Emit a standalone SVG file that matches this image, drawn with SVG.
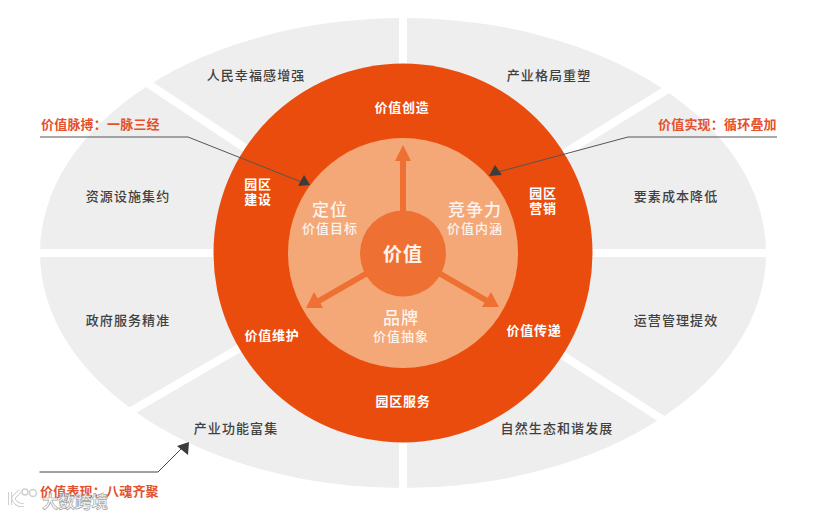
<svg xmlns="http://www.w3.org/2000/svg" width="823" height="516" viewBox="0 0 823 516">
<style>
text{font-family:"Noto Sans CJK SC","Noto Sans",sans-serif;text-anchor:middle;dominant-baseline:central}
.g{font-size:13px;letter-spacing:1.1px;fill:#404040;font-weight:500}
.w{font-size:13px;letter-spacing:.8px;fill:#fff;font-weight:700}
.s{font-size:13px;letter-spacing:1px;fill:#fdf3ec;font-weight:500}
.h{font-size:17px;letter-spacing:1px;fill:#fdf3ec;font-weight:500}
.o{font-size:13px;letter-spacing:.2px;fill:#e4512b;font-weight:700;text-anchor:start}
.gap{stroke:#fff;stroke-width:8;fill:none}
.ln{fill:none;stroke-width:1}
.ar{stroke:#ee7033;stroke-width:6;fill:none}
</style>
<rect width="823" height="516" fill="#fff"/>
<g id="outer-ring">
<ellipse cx="403" cy="253" rx="363" ry="235" fill="#eeeeee"/>
<path class="gap" d="M403 10V496M30 253H780M403 253L141 79M403 253L676 84M403 253L126 414M403 253L668 423" />
</g>
<g id="sector-labels">
<text class="g" x="256" y="74.500">人民幸福感增强</text>
<text class="g" x="549" y="74.500">产业格局重塑</text>
<text class="g" x="128" y="195.500">资源设施集约</text>
<text class="g" x="676" y="195.500">要素成本降低</text>
<text class="g" x="128" y="319.500">政府服务精准</text>
<text class="g" x="676" y="319.500">运营管理提效</text>
<text class="g" x="236" y="427.500">产业功能富集</text>
<text class="g" x="557" y="427.500">自然生态和谐发展</text>
</g>
<g id="ring">
<circle cx="403" cy="253" r="189.500" fill="#e94c0c"/>
<text class="w" x="402" y="106.500">价值创造</text>
<text class="w" x="258" y="190"><tspan x="258" dy="-7">园区</tspan><tspan x="258" dy="14.500">建设</tspan></text>
<text class="w" x="543" y="199"><tspan x="543" dy="-7">园区</tspan><tspan x="543" dy="14.500">营销</tspan></text>
<text class="w" x="272" y="334.500">价值维护</text>
<text class="w" x="534" y="329.500">价值传递</text>
<text class="w" x="403" y="400.500">园区服务</text>
</g>
<g id="inner">
<circle cx="403" cy="253" r="115" fill="#f4a878"/>
<text class="h" x="330" y="208.500">定位</text>
<text class="s" x="330" y="227.500">价值目标</text>
<text class="h" x="475" y="208.500">竞争力</text>
<text class="s" x="475" y="227.500">价值内涵</text>
<text class="h" x="401" y="316.500">品牌</text>
<text class="s" x="401" y="335">价值抽象</text>
</g>
<g id="arrows">
<path class="ar" d="M403 215V155M369 272L317 302M437 272L489 302"/>
<path fill="#ee7033" d="M403 145L411 161H395ZM306 308L314 292L323 308ZM499 307L482 307L491 292Z"/>
</g>
<g id="core">
<circle cx="403" cy="253.500" r="43" fill="#ee7033"/>
<text x="403" y="252.500" style="font-size:19px;font-weight:700;fill:#fdf3ec;letter-spacing:1px">价值</text>
</g>
<g id="connectors">
<path class="ln" stroke="#555" d="M40 137H188L304 183"/>
<path class="ln" stroke="#555" d="M777 137H628L498 172"/>
<path class="ln" stroke="#444" d="M39.500 472H158L182 448"/>
<path fill="#3c3c3c" d="M310 185L304 175L298 186ZM489 176L502 175L495 165ZM189 442L177 446L188 455Z"/>
</g>
<g id="callouts">
<text class="o" x="41" y="123">价值脉搏：一脉三经</text>
<text class="o" x="658" y="123">价值实现：循环叠加</text>
<text class="o" x="40" y="490">价值表现：八魂齐聚</text>
</g>
<g id="watermark" opacity=".9">
<path d="M10 492V505M13 498L20 491M13 498Q16 506 24 505" fill="none" stroke="#bbb" stroke-width="4"/>
<path d="M10 492V505M13 498L20 491M13 498Q16 506 24 505" fill="none" stroke="#fff" stroke-width="2.500"/>
<circle cx="25" cy="492" r="3" fill="none" stroke="#ccc" stroke-width="1.500"/>
<circle cx="33" cy="493" r="3.500" fill="none" stroke="#ccc" stroke-width="1.500"/>
<text x="75" y="501" style="font-size:16.500px;font-weight:700;fill:#fff;stroke:#999;stroke-width:.7px">大数跨境</text>
</g>
</svg>
